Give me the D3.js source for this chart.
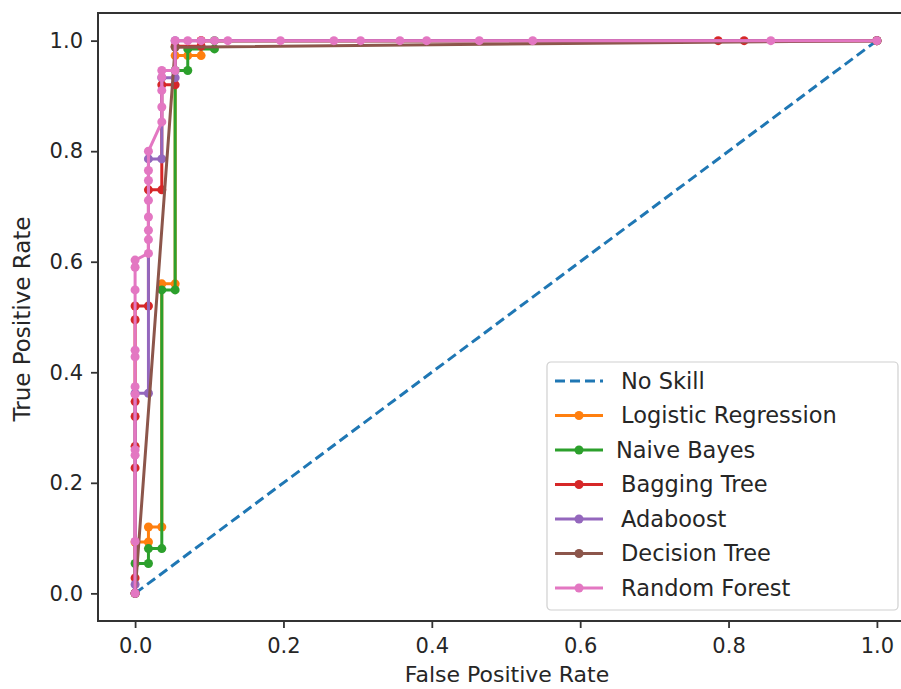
<!DOCTYPE html>
<html>
<head>
<meta charset="utf-8">
<script src="https://cdn.jsdelivr.net/npm/d3@7"></script>
<style>
  body { margin: 0; background: #fff; }
  text { font-family: "DejaVu Sans", sans-serif; fill: #262626; }
</style>
</head>
<body>
<div id="chart"></div>
<script>
// ROC curves, [FPR, TPR]
const noSkill = [[0, 0], [1, 1]];
const logisticRegression = [[0, 0], [0, 0.093], [0.018, 0.093], [0.018, 0.12], [0.036, 0.12], [0.036, 0.56], [0.054, 0.56], [0.054, 0.973], [0.071, 0.973], [0.089, 0.973], [0.089, 1.0], [1, 1]];
const naiveBayes = [[0, 0], [0, 0.054], [0.018, 0.054], [0.018, 0.081], [0.036, 0.081], [0.036, 0.549], [0.054, 0.549], [0.054, 0.946], [0.071, 0.946], [0.071, 0.985], [0.107, 0.985], [0.107, 1.0], [1, 1]];
const baggingTree = [[0, 0], [0, 0.028], [0, 0.227], [0, 0.266], [0, 0.32], [0, 0.347], [0, 0.495], [0, 0.52], [0.018, 0.52], [0.018, 0.73], [0.036, 0.73], [0.036, 0.92], [0.054, 0.92], [0.054, 0.99], [0.089, 0.99], [0.089, 1.0], [0.786, 1.0], [0.821, 1.0], [1, 1]];
const adaboost = [[0, 0], [0, 0.016], [0, 0.362], [0.018, 0.362], [0.018, 0.786], [0.036, 0.786], [0.036, 0.933], [0.054, 0.933], [0.054, 1.0], [1, 1]];
const decisionTree = [[0, 0], [0.054, 0.988], [1, 1]];
const randomForest = [[0, 0], [0, 0.094], [0, 0.25], [0, 0.26], [0, 0.36], [0, 0.374], [0, 0.428], [0, 0.44], [0, 0.549], [0, 0.59], [0, 0.603], [0.018, 0.615], [0.018, 0.64], [0.018, 0.657], [0.018, 0.681], [0.018, 0.711], [0.018, 0.747], [0.018, 0.765], [0.018, 0.80], [0.036, 0.853], [0.036, 0.88], [0.036, 0.91], [0.036, 0.934], [0.036, 0.946], [0.054, 0.946], [0.054, 1.0], [0.071, 1.0], [0.089, 1.0], [0.107, 1.0], [0.125, 1.0], [0.196, 1.0], [0.268, 1.0], [0.304, 1.0], [0.357, 1.0], [0.393, 1.0], [0.464, 1.0], [0.536, 1.0], [0.857, 1.0], [1, 1]];

const seriesNames = ["No Skill", "Logistic Regression", "Naive Bayes", "Bagging Tree", "Adaboost", "Decision Tree", "Random Forest"];
const seriesData = [noSkill, logisticRegression, naiveBayes, baggingTree, adaboost, decisionTree, randomForest];
const seriesColors = ["#1f77b4", "#ff7f0e", "#2ca02c", "#d62728", "#9467bd", "#8c564b", "#e377c2"];
const tickValues = [0, 0.2, 0.4, 0.6, 0.8, 1.0];

const width = 901, height = 689;
const plot = { left: 98, top: 13, right: 914, bottom: 621 };

const svg = d3.select("#chart").append("svg")
  .attr("width", width)
  .attr("height", height);

// matplotlib style 5% margins
const x = d3.scaleLinear().domain([-0.05, 1.05]).range([plot.left, plot.right]);
const y = d3.scaleLinear().domain([-0.05, 1.05]).range([plot.bottom, plot.top]);

svg.append("clipPath").attr("id", "plot-clip")
  .append("rect")
  .attr("x", plot.left).attr("y", plot.top)
  .attr("width", plot.right - plot.left).attr("height", plot.bottom - plot.top);

const line = d3.line().x(d => x(d[0])).y(d => y(d[1]));

const curves = svg.append("g").attr("clip-path", "url(#plot-clip)");

seriesData.forEach((data, i) => {
  const g = curves.append("g");
  g.append("path")
    .datum(data)
    .attr("d", line)
    .attr("fill", "none")
    .attr("stroke", seriesColors[i])
    .attr("stroke-width", 3)
    .attr("stroke-dasharray", i === 0 ? "10,5" : null);
  if (i > 0) {
    g.selectAll("circle")
      .data(data)
      .enter()
      .append("circle")
      .attr("cx", d => x(d[0]))
      .attr("cy", d => y(d[1]))
      .attr("r", 4.5)
      .attr("fill", seriesColors[i]);
  }
});

// axes
const xAxis = svg.append("g")
  .attr("transform", `translate(0,${plot.bottom})`)
  .call(d3.axisBottom(x).tickValues(tickValues).tickFormat(d3.format(".1f")).tickSize(7).tickPadding(10));
const yAxis = svg.append("g")
  .attr("transform", `translate(${plot.left},0)`)
  .call(d3.axisLeft(y).tickValues(tickValues).tickFormat(d3.format(".1f")).tickSize(7).tickPadding(8));

[xAxis, yAxis].forEach(a => {
  a.select(".domain").remove();
  a.selectAll(".tick line").attr("stroke", "#333").attr("stroke-width", 1.8);
  a.selectAll(".tick text").style("font-size", "21px").attr("fill", "#262626");
});

// frame
svg.append("rect")
  .attr("x", plot.left).attr("y", plot.top)
  .attr("width", plot.right - plot.left).attr("height", plot.bottom - plot.top)
  .attr("fill", "none").attr("stroke", "#333").attr("stroke-width", 2);

// axis labels
svg.append("text")
  .attr("x", x(0.5) + 1).attr("y", 682)
  .attr("text-anchor", "middle")
  .style("font-size", "22px")
  .text("False Positive Rate");
svg.append("text")
  .attr("transform", `translate(30,${y(0.5) + 2}) rotate(-90)`)
  .attr("text-anchor", "middle")
  .style("font-size", "23px")
  .text("True Positive Rate");

// legend
const legend = svg.append("g").attr("transform", "translate(547,362)");
legend.append("rect")
  .attr("width", 351).attr("height", 248)
  .attr("rx", 4)
  .attr("fill", "#fff").attr("fill-opacity", 0.8)
  .attr("stroke", "#d0d0d0").attr("stroke-width", 1.2);

const items = legend.selectAll(".legend-item")
  .data(seriesNames)
  .enter()
  .append("g")
  .attr("class", "legend-item")
  .attr("transform", (d, i) => `translate(0,${19 + i * 34.5})`);

items.append("line")
  .attr("x1", 8).attr("x2", 56)
  .attr("stroke", (d, i) => seriesColors[i])
  .attr("stroke-width", 3)
  .attr("stroke-dasharray", (d, i) => i === 0 ? "10,5" : null);
items.filter((d, i) => i > 0)
  .append("circle")
  .attr("cx", 32).attr("r", 4.5)
  .attr("fill", d => seriesColors[seriesNames.indexOf(d)]);
items.append("text")
  .attr("x", (d, i) => i === 2 ? 69 : 74)
  .attr("dy", "0.35em")
  .style("font-size", "22.5px")
  .text(d => d);
</script>
</body>
</html>
